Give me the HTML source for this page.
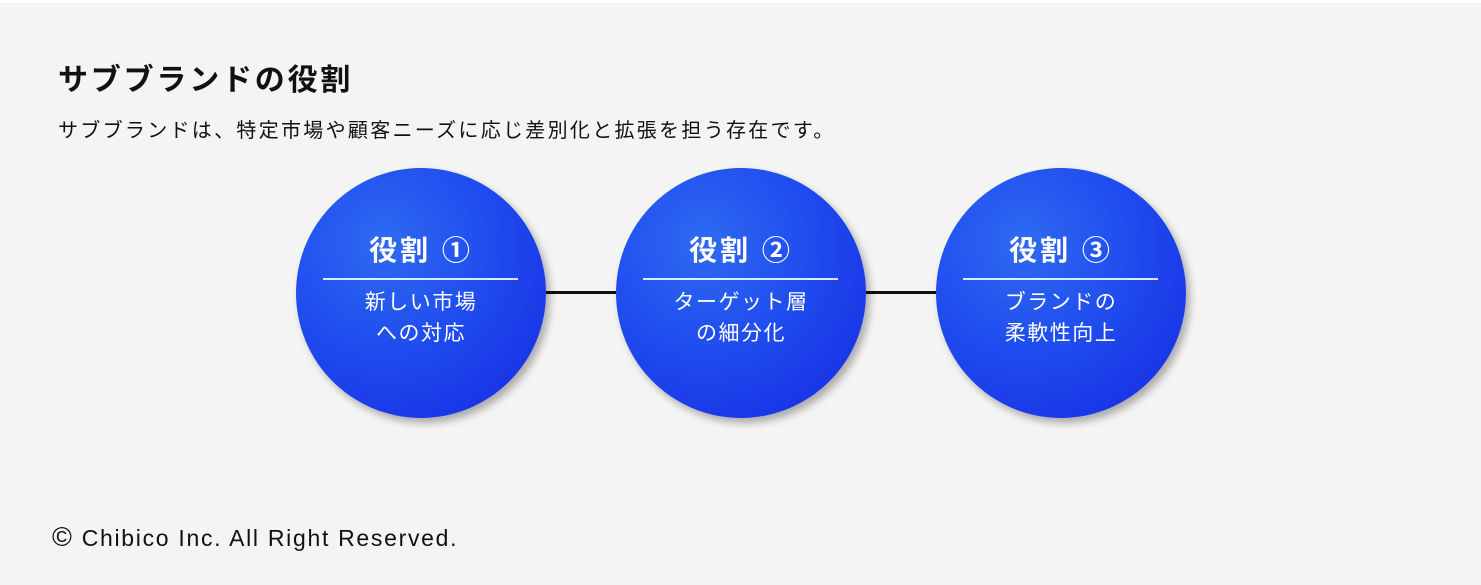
<!DOCTYPE html>
<html><head><meta charset="utf-8"><style>
body{margin:0;width:1481px;height:585px;background:#fff;overflow:hidden;font-family:"Liberation Sans","Noto Sans CJK JP",sans-serif;}
.bg{position:absolute;left:0;top:3px;width:1481px;height:582px;background:#f4f4f4;}
.t{position:absolute;left:58px;top:55px;font-size:30px;font-weight:bold;color:#111;letter-spacing:2.8px;}
.s{position:absolute;left:58px;top:114px;font-size:20px;color:#111;letter-spacing:2.3px;}
.f{position:absolute;left:52px;top:522px;font-size:23px;color:#111;letter-spacing:1.7px;}
.line{position:absolute;left:540px;top:291px;width:410px;height:3px;background:#111;}
.c{position:absolute;top:168px;width:250px;height:250px;border-radius:50%;
background:radial-gradient(circle at 35% 30%,#2f6af0 0%,#1f4cef 45%,#1528e0 100%);
box-shadow:4px 5px 8px rgba(0,0,0,0.3);color:#fff;text-align:center;}
.h{position:absolute;top:61px;left:0;width:100%;font-size:28px;font-weight:bold;letter-spacing:3px;}
.hr{position:absolute;left:27px;width:195px;top:110px;height:1.5px;background:#dfe6ff;}
.b{position:absolute;top:119px;left:0;width:100%;font-size:21px;line-height:31px;letter-spacing:1.5px;}
</style></head><body>
<div class="bg"></div>
<div class="t">サブブランドの役割</div>
<div class="s">サブブランドは、特定市場や顧客ニーズに応じ差別化と拡張を担う存在です。</div>
<div class="line"></div>
<div class="c" style="left:296px"><div class="h">役割 ①</div><div class="hr"></div><div class="b">新しい市場<br>への対応</div></div>
<div class="c" style="left:616px"><div class="h">役割 ②</div><div class="hr"></div><div class="b">ターゲット層<br>の細分化</div></div>
<div class="c" style="left:936px"><div class="h">役割 ③</div><div class="hr"></div><div class="b">ブランドの<br>柔軟性向上</div></div>
<div class="f"><span style="font-size:27px;">©</span> Chibico Inc. All Right Reserved.</div>
</body></html>
